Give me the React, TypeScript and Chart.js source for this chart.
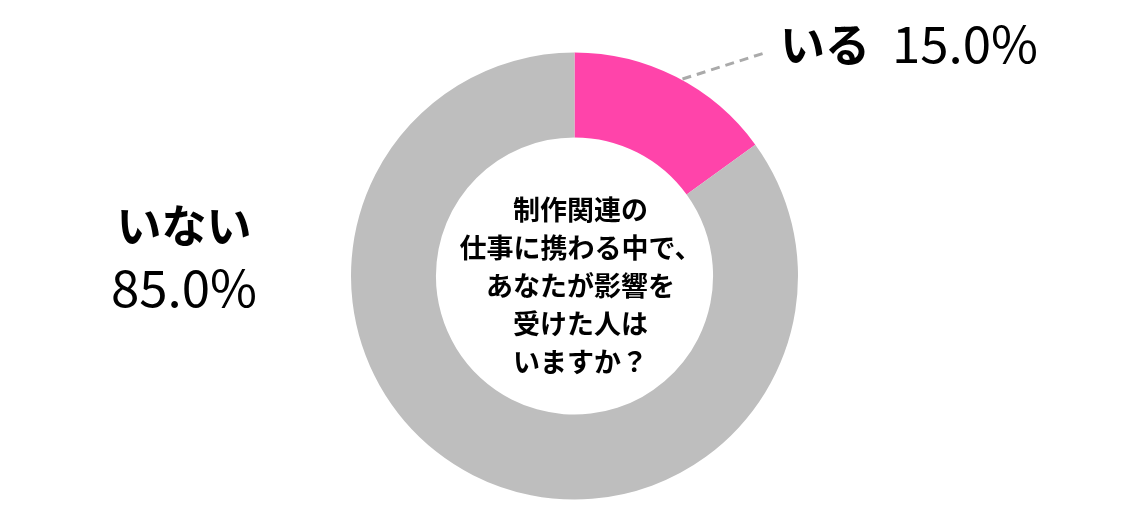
import React, { useEffect, useRef } from "react";
import { Chart, registerables } from "chart.js";

Chart.register(...registerables);

const categories = ["いる", "いない"];
const values = [15.0, 85.0];
const colors = ["#FF44AA", "#BEBEBE"];
const centerLines = [
  "制作関連の",
  "仕事に携わる中で、",
  "あなたが影響を",
  "受けた人は",
  "いますか？",
];

const FONT = '"Noto Sans CJK JP", "Noto Sans", sans-serif';

const labelPlugin = {
  id: "labels",
  afterDraw(chart: any) {
    const ctx = chart.ctx as CanvasRenderingContext2D;
    const arc0 = chart.getDatasetMeta(0).data[0];
    const cx = arc0.x;
    const cy = arc0.y;
    ctx.save();
    ctx.fillStyle = "#000";
    ctx.textBaseline = "middle";
    ctx.textAlign = "center";
    // center question
    ctx.font = `bold 27px ${FONT}`;
    centerLines.forEach((t, i) => {
      ctx.fillText(t, cx + 6, cy - 66 + i * 38);
    });

    // leader line for first slice
    ctx.strokeStyle = "#AAAAAA";
    ctx.lineWidth = 3;
    ctx.setLineDash([9, 6]);
    ctx.beginPath();
    ctx.moveTo(cx + 108, cy - 197);
    ctx.lineTo(cx + 193, cy - 224);
    ctx.stroke();
    ctx.setLineDash([]);

    // label いる
    const pct0 = values[0].toFixed(1) + "%";
    ctx.textAlign = "left";
    ctx.textBaseline = "alphabetic";
    ctx.font = `bold 45px ${FONT}`;
    const kx = 780;
    ctx.fillText(categories[0], kx, 62);
    const kw = ctx.measureText(categories[0]).width;
    ctx.font = `51px ${FONT}`;
    ctx.fillText(pct0, kx + kw + 22, 63);

    // label いない
    const pct1 = values[1].toFixed(1) + "%";
    ctx.textAlign = "center";
    ctx.font = `bold 45px ${FONT}`;
    ctx.fillText(categories[1], 184, 243);
    ctx.font = `51px ${FONT}`;
    ctx.fillText(pct1, 184, 307);
    ctx.restore();
  },
};

export default function App() {
  const ref = useRef<HTMLCanvasElement>(null);
  useEffect(() => {
    const chart = new Chart(ref.current!, {
      type: "doughnut",
      data: {
        labels: categories,
        datasets: [
          {
            data: values,
            backgroundColor: colors,
            borderWidth: 0,
          },
        ],
      },
      options: {
        animation: false,
        responsive: false,
        cutout: "62%",
        layout: { padding: { top: 52.5, bottom: 22.5, left: 351, right: 342 } },
        plugins: {
          legend: { display: false },
          tooltip: { enabled: false },
        },
      },
      plugins: [labelPlugin],
    });
    return () => chart.destroy();
  }, []);
  return (
    <div style={{ position: "absolute", left: 0, top: 0, width: 1140, height: 522, background: "#fff" }}>
      <canvas ref={ref} width={1140} height={522} style={{ width: 1140, height: 522 }} />
    </div>
  );
}
